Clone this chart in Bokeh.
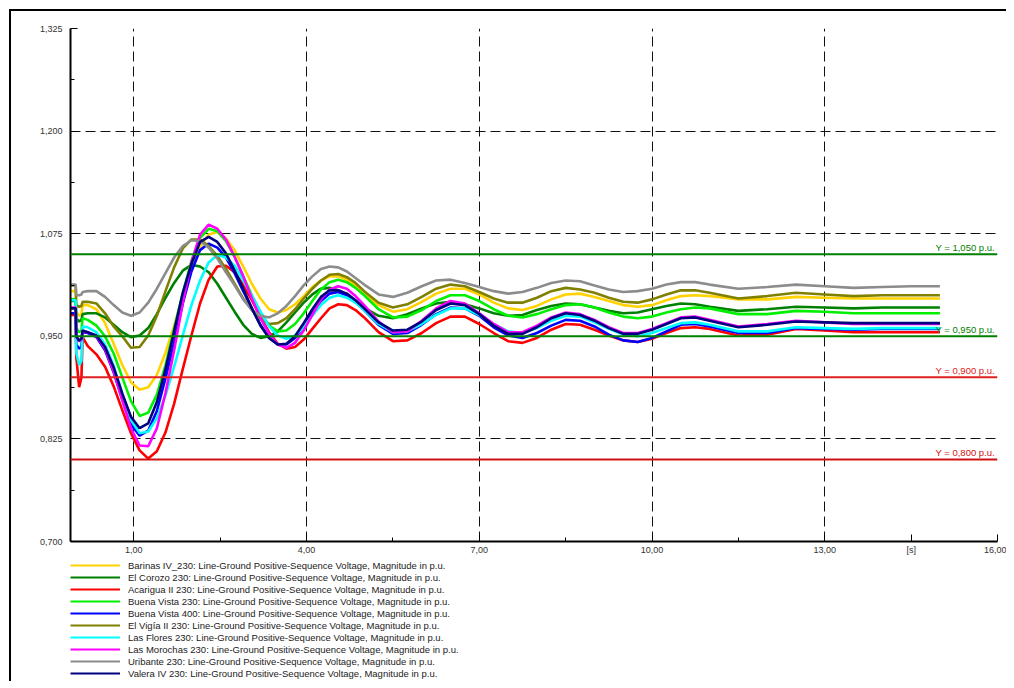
from bokeh.plotting import figure
from bokeh.layouts import column
from bokeh.models import Range1d, FixedTicker, Span, Label, Legend, LegendItem
from bokeh.embed import file_html
from bokeh.resources import INLINE

# ---------------- data ----------------
time_s = [-0.1, -0.01, 0.0, 0.05, 0.09, 0.11, 0.2,
          0.35, 0.5, 0.65, 0.8, 0.95, 1.1, 1.25, 1.4, 1.55, 1.7, 1.85, 2.0,
          2.15, 2.3, 2.45, 2.6, 2.75, 2.9, 3.05, 3.2, 3.35, 3.5, 3.65, 3.8,
          3.95, 4.1, 4.25, 4.4, 4.55, 4.7, 4.85, 5.0,
          5.25, 5.5, 5.75, 6.0, 6.25, 6.5, 6.75, 7.0, 7.25, 7.5, 7.75, 8.0,
          8.25, 8.5, 8.75, 9.0, 9.25, 9.5, 9.75, 10.0, 10.25, 10.5, 10.75, 11.0,
          11.5, 12.0, 12.5, 13.0, 13.5, 14.0, 14.5, 15.0]

barinas = [1.005, 1.005, 0.980, 0.975, 0.977, 0.988, 0.988,
           0.983, 0.966, 0.941, 0.915, 0.894, 0.885, 0.888, 0.903, 0.930, 0.963, 1.000, 1.033,
           1.059, 1.074, 1.077, 1.069, 1.055, 1.035, 1.014, 0.996, 0.983, 0.979, 0.982, 0.989,
           0.999, 1.010, 1.018, 1.023, 1.023, 1.019, 1.012, 1.002,
           0.988, 0.980, 0.983, 0.992, 1.002, 1.008, 1.008, 1.001, 0.991, 0.984, 0.982, 0.987,
           0.995, 1.001, 1.002, 0.998, 0.993, 0.988, 0.986, 0.988, 0.994, 0.999, 1.000, 0.999,
           0.995, 0.995, 0.998, 0.997, 0.996, 0.996, 0.996, 0.996]

el_corozo = [0.993, 0.993, 0.972, 0.968, 0.970, 0.977, 0.978,
             0.978, 0.973, 0.964, 0.955, 0.949, 0.951, 0.960, 0.977, 0.997, 1.015, 1.030, 1.037,
             1.035, 1.028, 1.014, 0.997, 0.980, 0.964, 0.953, 0.948, 0.950, 0.956, 0.967, 0.979,
             0.991, 1.001, 1.008, 1.009, 1.006, 1.001, 0.993, 0.985,
             0.975, 0.972, 0.977, 0.984, 0.990, 0.992, 0.989, 0.984, 0.978, 0.975, 0.976, 0.982,
             0.987, 0.990, 0.989, 0.985, 0.981, 0.978, 0.979, 0.983, 0.987, 0.990, 0.989, 0.986,
             0.981, 0.983, 0.986, 0.985, 0.984, 0.985, 0.985, 0.985]

acarigua = [0.976, 0.976, 0.925, 0.888, 0.900, 0.949, 0.938,
            0.928, 0.913, 0.889, 0.860, 0.832, 0.811, 0.801, 0.810, 0.833, 0.868, 0.910, 0.951,
            0.990, 1.019, 1.035, 1.036, 1.028, 1.013, 0.994, 0.973, 0.955, 0.941, 0.935, 0.937,
            0.946, 0.959, 0.972, 0.984, 0.989, 0.988, 0.982, 0.973,
            0.955, 0.944, 0.945, 0.954, 0.966, 0.974, 0.974, 0.965, 0.954, 0.944, 0.942, 0.948,
            0.958, 0.965, 0.964, 0.958, 0.951, 0.945, 0.943, 0.947, 0.954, 0.960, 0.961, 0.959,
            0.951, 0.952, 0.959, 0.957, 0.955, 0.955, 0.955, 0.955]

buena_vista_230 = [0.995, 0.995, 0.960, 0.955, 0.957, 0.972, 0.970,
                   0.963, 0.950, 0.929, 0.900, 0.871, 0.853, 0.857, 0.879, 0.915, 0.959, 1.003, 1.042,
                   1.070, 1.081, 1.078, 1.066, 1.047, 1.023, 1.000, 0.979, 0.963, 0.956, 0.957, 0.965,
                   0.978, 0.993, 1.007, 1.016, 1.019, 1.016, 1.009, 1.000,
                   0.983, 0.973, 0.974, 0.982, 0.993, 1.000, 1.000, 0.993, 0.983, 0.975, 0.973, 0.977,
                   0.983, 0.988, 0.989, 0.985, 0.979, 0.974, 0.972, 0.974, 0.979, 0.983, 0.985, 0.984,
                   0.977, 0.977, 0.981, 0.980, 0.978, 0.978, 0.978, 0.978]

buena_vista_400 = [0.978, 0.978, 0.940, 0.935, 0.937, 0.955, 0.954,
                   0.949, 0.933, 0.906, 0.873, 0.843, 0.829, 0.835, 0.859, 0.899, 0.943, 0.990, 1.029,
                   1.055, 1.063, 1.058, 1.046, 1.027, 1.005, 0.984, 0.964, 0.948, 0.940, 0.940, 0.948,
                   0.962, 0.979, 0.993, 1.002, 1.004, 1.000, 0.992, 0.982,
                   0.964, 0.953, 0.954, 0.964, 0.977, 0.985, 0.984, 0.975, 0.961, 0.951, 0.948, 0.954,
                   0.963, 0.970, 0.969, 0.962, 0.952, 0.945, 0.943, 0.948, 0.956, 0.964, 0.965, 0.962,
                   0.954, 0.954, 0.960, 0.959, 0.958, 0.959, 0.959, 0.959]

el_vigia = [1.012, 1.012, 0.988, 0.986, 0.987, 0.992, 0.992,
            0.990, 0.978, 0.962, 0.950, 0.936, 0.937, 0.951, 0.975, 1.005, 1.034, 1.057, 1.068,
            1.068, 1.060, 1.048, 1.032, 1.014, 0.996, 0.982, 0.971, 0.965, 0.966, 0.972, 0.983,
            0.996, 1.008, 1.018, 1.025, 1.026, 1.022, 1.015, 1.005,
            0.991, 0.985, 0.989, 0.998, 1.008, 1.013, 1.011, 1.004, 0.996, 0.991, 0.991, 0.997,
            1.005, 1.009, 1.007, 1.003, 0.997, 0.992, 0.991, 0.995, 1.001, 1.006, 1.006, 1.003,
            0.996, 0.999, 1.003, 1.001, 0.999, 1.000, 1.000, 1.000]

las_flores = [0.994, 0.994, 0.930, 0.915, 0.920, 0.962, 0.961,
              0.955, 0.940, 0.914, 0.880, 0.848, 0.832, 0.834, 0.850, 0.878, 0.913, 0.951, 0.988,
              1.018, 1.040, 1.049, 1.046, 1.036, 1.018, 0.999, 0.980, 0.962, 0.951, 0.947, 0.951,
              0.961, 0.975, 0.988, 0.997, 1.000, 0.997, 0.991, 0.982,
              0.965, 0.955, 0.956, 0.965, 0.976, 0.984, 0.984, 0.976, 0.965, 0.956, 0.954, 0.960,
              0.969, 0.975, 0.974, 0.967, 0.959, 0.952, 0.950, 0.954, 0.960, 0.966, 0.967, 0.964,
              0.956, 0.956, 0.961, 0.960, 0.959, 0.960, 0.960, 0.960]

las_morochas = [0.985, 0.985, 0.950, 0.944, 0.946, 0.956, 0.955,
                0.950, 0.935, 0.907, 0.872, 0.838, 0.817, 0.816, 0.838, 0.881, 0.933, 0.991, 1.040,
                1.074, 1.086, 1.081, 1.068, 1.047, 1.023, 0.996, 0.972, 0.953, 0.940, 0.936, 0.942,
                0.957, 0.976, 0.995, 1.007, 1.011, 1.008, 0.999, 0.988,
                0.968, 0.955, 0.956, 0.969, 0.984, 0.993, 0.990, 0.978, 0.965, 0.955, 0.955, 0.963,
                0.973, 0.979, 0.977, 0.970, 0.961, 0.954, 0.954, 0.959, 0.966, 0.973, 0.974, 0.970,
                0.962, 0.965, 0.969, 0.967, 0.965, 0.965, 0.965, 0.965]

uribante = [1.013, 1.013, 1.000, 1.000, 1.001, 1.004, 1.005,
            1.005, 0.998, 0.988, 0.979, 0.975, 0.979, 0.991, 1.008, 1.027, 1.046, 1.060, 1.067,
            1.066, 1.058, 1.045, 1.028, 1.012, 0.995, 0.982, 0.975, 0.973, 0.978, 0.987, 0.999,
            1.012, 1.023, 1.032, 1.035, 1.034, 1.029, 1.021, 1.013,
            1.001, 0.998, 1.003, 1.011, 1.018, 1.019, 1.015, 1.010, 1.005, 1.002, 1.004, 1.009,
            1.015, 1.018, 1.017, 1.012, 1.007, 1.004, 1.005, 1.008, 1.013, 1.016, 1.016, 1.013,
            1.008, 1.010, 1.013, 1.011, 1.009, 1.010, 1.011, 1.011]

valera = [0.984, 0.984, 0.950, 0.945, 0.947, 0.957, 0.955,
          0.951, 0.937, 0.912, 0.880, 0.852, 0.838, 0.844, 0.870, 0.910, 0.956, 1.003, 1.038,
          1.065, 1.071, 1.065, 1.051, 1.030, 1.008, 0.984, 0.963, 0.948, 0.940, 0.941, 0.950,
          0.966, 0.983, 0.998, 1.006, 1.006, 1.002, 0.994, 0.984,
          0.967, 0.957, 0.958, 0.968, 0.982, 0.990, 0.988, 0.977, 0.963, 0.953, 0.953, 0.961,
          0.972, 0.978, 0.976, 0.969, 0.960, 0.953, 0.953, 0.958, 0.965, 0.972, 0.973, 0.969,
          0.961, 0.964, 0.968, 0.967, 0.966, 0.966, 0.966, 0.966]

series_labels = [
    "Barinas IV_230: Line-Ground Positive-Sequence Voltage, Magnitude in p.u.",
    "El Corozo 230: Line-Ground Positive-Sequence Voltage, Magnitude in p.u.",
    "Acarigua II 230: Line-Ground Positive-Sequence Voltage, Magnitude in p.u.",
    "Buena Vista 230: Line-Ground Positive-Sequence Voltage, Magnitude in p.u.",
    "Buena Vista 400: Line-Ground Positive-Sequence Voltage, Magnitude in p.u.",
    "El Vigía II 230: Line-Ground Positive-Sequence Voltage, Magnitude in p.u.",
    "Las Flores 230: Line-Ground Positive-Sequence Voltage, Magnitude in p.u.",
    "Las Morochas 230: Line-Ground Positive-Sequence Voltage, Magnitude in p.u.",
    "Uribante 230: Line-Ground Positive-Sequence Voltage, Magnitude in p.u.",
    "Valera IV 230: Line-Ground Positive-Sequence Voltage, Magnitude in p.u.",
]
series_values = [barinas, el_corozo, acarigua, buena_vista_230, buena_vista_400,
                 el_vigia, las_flores, las_morochas, uribante, valera]
series_colors = ["#FFD200", "#008000", "#FF0000", "#00F000", "#0000FF",
                 "#808000", "#00FFFF", "#FF00FF", "#8C8C8C", "#000080"]

limit_values = [1.05, 0.95, 0.90, 0.80]
limit_labels = ["Y =  1,050 p.u.", "Y =  0,950 p.u.", "Y =  0,900 p.u.", "Y =  0,800 p.u."]
limit_colors = ["#008000", "#008000", "#E02020", "#D01010"]

x_ticks = [1.0, 4.0, 7.0, 10.0, 13.0, 14.5, 16.0]
x_tick_labels = ["1,00", "4,00", "7,00", "10,00", "13,00", "[s]", "16,00"]
x_grid = [1.0, 4.0, 7.0, 10.0, 13.0, 16.0]
x_minor = [2.5, 5.5, 8.5, 11.5, 14.5]
y_ticks = [0.700, 0.825, 0.950, 1.075, 1.200, 1.325]
y_tick_labels = ["0,700", "0,825", "0,950", "1,075", "1,200", "1,325"]
y_minor = [0.7625, 0.8875, 1.0125, 1.1375, 1.2625]

for s in series_values:
    assert len(s) == len(time_s), len(s)

# ---------------- main figure ----------------
FONT = "Liberation Sans"
p = figure(frame_width=927, frame_height=513,
           x_range=Range1d(-0.1, 16.0), y_range=Range1d(0.700, 1.325),
           output_backend="svg", toolbar_location=None,
           min_border_left=59, min_border_right=9, min_border_top=17, min_border_bottom=16,
           background_fill_color="white", border_fill_color="white")
p.outline_line_color = None

for ax in (p.xaxis[0], p.yaxis[0]):
    ax.axis_line_color = "black"
    ax.axis_line_width = 2
    ax.major_tick_in = 7
    ax.major_tick_out = 0
    ax.minor_tick_in = 4
    ax.minor_tick_out = 0
    ax.major_tick_line_color = "black"
    ax.minor_tick_line_color = "black"
    ax.major_label_text_font = FONT
    ax.major_label_text_font_size = "9px"
    ax.major_label_text_color = "#333333"

p.xaxis[0].ticker = FixedTicker(ticks=x_ticks, minor_ticks=x_minor)
p.xaxis[0].major_label_overrides = {t: l for t, l in zip(x_ticks, x_tick_labels)}
p.xaxis[0].major_label_standoff = 3
p.yaxis[0].ticker = FixedTicker(ticks=y_ticks, minor_ticks=y_minor)
p.yaxis[0].major_label_overrides = {t: l for t, l in zip(y_ticks, y_tick_labels)}
p.yaxis[0].major_label_standoff = 8

p.xgrid[0].ticker = FixedTicker(ticks=x_grid)
for g in (p.xgrid[0], p.ygrid[0]):
    g.grid_line_color = "#111111"
    g.grid_line_width = 1
    g.grid_line_dash = "10 5"

for vals, col in zip(series_values, series_colors):
    p.line(time_s, vals, line_color=col, line_width=2.6)

for v, lab, col in zip(limit_values, limit_labels, limit_colors):
    p.add_layout(Span(location=v, dimension="width", line_color=col, line_width=2))
    p.add_layout(Label(x=16.0, y=v, text=lab, text_align="right", text_baseline="bottom",
                       y_offset=1, text_font=FONT, text_font_size="9.5px", text_color=col))

# ---------------- legend strip below the chart ----------------
# (its ranges are set away from the data so only the legend samples show)
p2 = figure(width=995, height=124, output_backend="svg", toolbar_location=None,
            x_axis_location=None, y_axis_location=None,
            x_range=Range1d(100.0, 101.0), y_range=Range1d(100.0, 101.0),
            min_border=0, min_border_left=0, min_border_right=0,
            min_border_top=0, min_border_bottom=0,
            background_fill_color="white", border_fill_color="white")
p2.outline_line_color = None
p2.grid.visible = False
items = []
for lab, vals, col in zip(series_labels, series_values, series_colors):
    r2 = p2.line(time_s, vals, line_color=col, line_width=2)
    items.append(LegendItem(label=lab, renderers=[r2]))
legend = Legend(items=items, location=(0, 2), orientation="vertical",
                glyph_width=50, glyph_height=12, label_height=12, label_standoff=8,
                spacing=0, padding=0, margin=0, border_line_color=None,
                background_fill_alpha=0.0,
                label_text_font=FONT, label_text_font_size="9.5px",
                label_text_color="#222222")
p2.add_layout(legend)

layout = column(p, p2, spacing=0, margin=(9, 0, 0, 9),
                styles={"border-left": "2px solid black", "border-top": "2px solid black"})

open("out.html", "w").write(file_html(layout, INLINE))
